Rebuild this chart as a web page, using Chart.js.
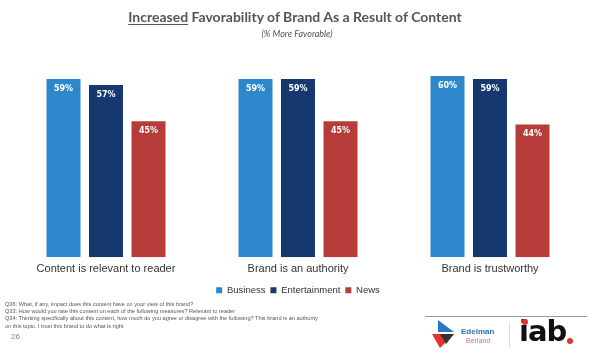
<!DOCTYPE html>
<html>
<head>
<meta charset="utf-8">
<script src="https://cdn.jsdelivr.net/npm/chart.js@4"></script>
<style>
  body { margin: 0; background: #fff; }
  #page { position: relative; width: 598px; height: 354px; overflow: hidden; font-family: "Liberation Sans", Arial, sans-serif; }
  #chartBox { position: absolute; left: 0; top: 0; width: 598px; height: 305px; }
  .title { position: absolute; top: 8px; left: -4px; width: 598px; text-align: center; font-family: Lato, "Open Sans", sans-serif; font-weight: bold; font-size: 14px; color: #555; }
  .title u { text-decoration-thickness: 1px; text-underline-offset: 2px; }
  .subtitle { position: absolute; top: 28px; left: -2px; width: 598px; text-align: center; font-family: Lato, sans-serif; font-style: italic; font-size: 9px; color: #555; }
  .notes { position: absolute; left: 5px; top: 301px; font-size: 5.6px; line-height: 7.2px; color: #555; }
  .pagenum { position: absolute; left: 11px; top: 332px; font-size: 8px; color: #888; }
  .rule { position: absolute; left: 425px; top: 316px; width: 162px; height: 1px; background: #999; }
  .ed1 { position: absolute; left: 461px; top: 327px; font-size: 8px; font-weight: bold; color: #2b6fb8; }
  .ed2 { position: absolute; left: 466px; top: 337px; font-size: 6.5px; color: #e0664f; letter-spacing: 0.3px; }
  .sep { position: absolute; left: 509px; top: 322px; width: 1px; height: 26px; background: #ddd; }
  .iab { position: absolute; left: 519px; top: 314px; font-family: "DejaVu Sans", sans-serif; font-weight: bold; font-size: 29px; color: #111; letter-spacing: -1px; }
  .iabdot { position: absolute; left: 567px; top: 338px; width: 6px; height: 6px; border-radius: 3px; background: #e5332a; }
  .idot { position: absolute; left: 522px; top: 319px; width: 6px; height: 6px; border-radius: 3px; background: #e5332a; }
</style>
</head>
<body>
<div id="page">
  <div id="chartBox"><canvas id="chart"></canvas></div>
  <div class="title"><u>Increased</u> Favorability of Brand As a Result of Content</div>
  <div class="subtitle">(% More Favorable)</div>
  <div class="notes">
    Q36: What, if any, impact does this content have on your view of this brand?<br>
    Q33: How would you rate this content on each of the following measures? Relevant to reader<br>
    Q34: Thinking specifically about this content, how much do you agree or disagree with the following? This brand is an authority<br>
    on this topic. I trust this brand to do what is right
  </div>
  <div class="pagenum">26</div>
  <div class="rule"></div>
  <svg style="position:absolute;left:432px;top:320px" width="24" height="29" viewBox="0 0 24 29">
    <polygon points="6,0 22,12 6,12" fill="#2b78c2"/>
    <polygon points="0,14 22,14 8,28" fill="#e5332a"/>
    <polygon points="8,14 22,14 14,24" fill="#333"/>
  </svg>
  <div class="ed1">Edelman</div>
  <div class="ed2">Berland</div>
  <div class="sep"></div>
  <div class="iab">iab</div>
  <div class="idot"></div>
  <div class="iabdot"></div>
</div>
<script>
const categories = ["Content is relevant to reader", "Brand is an authority", "Brand is trustworthy"];
const businessValues = [59, 59, 60];
const entertainmentValues = [57, 59, 59];
const newsValues = [45, 45, 44];

const barLabels = {
  id: "barLabels",
  afterDatasetsDraw(chart) {
    const ctx = chart.ctx;
    ctx.save();
    ctx.fillStyle = "#fff";
    ctx.font = "bold 8px 'DejaVu Sans', sans-serif";
    ctx.textAlign = "center";
    ctx.textBaseline = "middle";
    chart.data.datasets.forEach((ds, i) => {
      chart.getDatasetMeta(i).data.forEach((bar, j) => {
        ctx.fillText(ds.data[j] + "%", bar.x, bar.y + 10);
      });
    });
    ctx.restore();
  }
};

new Chart(document.getElementById("chart").getContext("2d"), {
  type: "bar",
  data: {
    labels: categories,
    datasets: [
      { label: "Business", data: businessValues, backgroundColor: "#2c88cb" },
      { label: "Entertainment", data: entertainmentValues, backgroundColor: "#17386e" },
      { label: "News", data: newsValues, backgroundColor: "#b63c3a" }
    ]
  },
  options: {
    responsive: true,
    maintainAspectRatio: false,
    animation: false,
    categoryPercentage: 0.664,
    barPercentage: 0.8,
    layout: { padding: { left: 10, right: 12, top: 70, bottom: 0 } },
    scales: {
      x: {
        grid: { display: false, drawTicks: false },
        border: { display: false },
        ticks: { color: "#333", font: { family: "Liberation Sans", size: 11 }, padding: 5 }
      },
      y: {
        display: false,
        min: 0,
        max: 62
      }
    },
    plugins: {
      tooltip: { enabled: false },
      legend: {
        position: "bottom",
        labels: {
          color: "#333",
          boxWidth: 6,
          boxHeight: 6,
          padding: 5,
          font: { family: "Liberation Sans", size: 9.5 }
        }
      }
    }
  },
  plugins: [barLabels]
});
</script>
</body>
</html>
